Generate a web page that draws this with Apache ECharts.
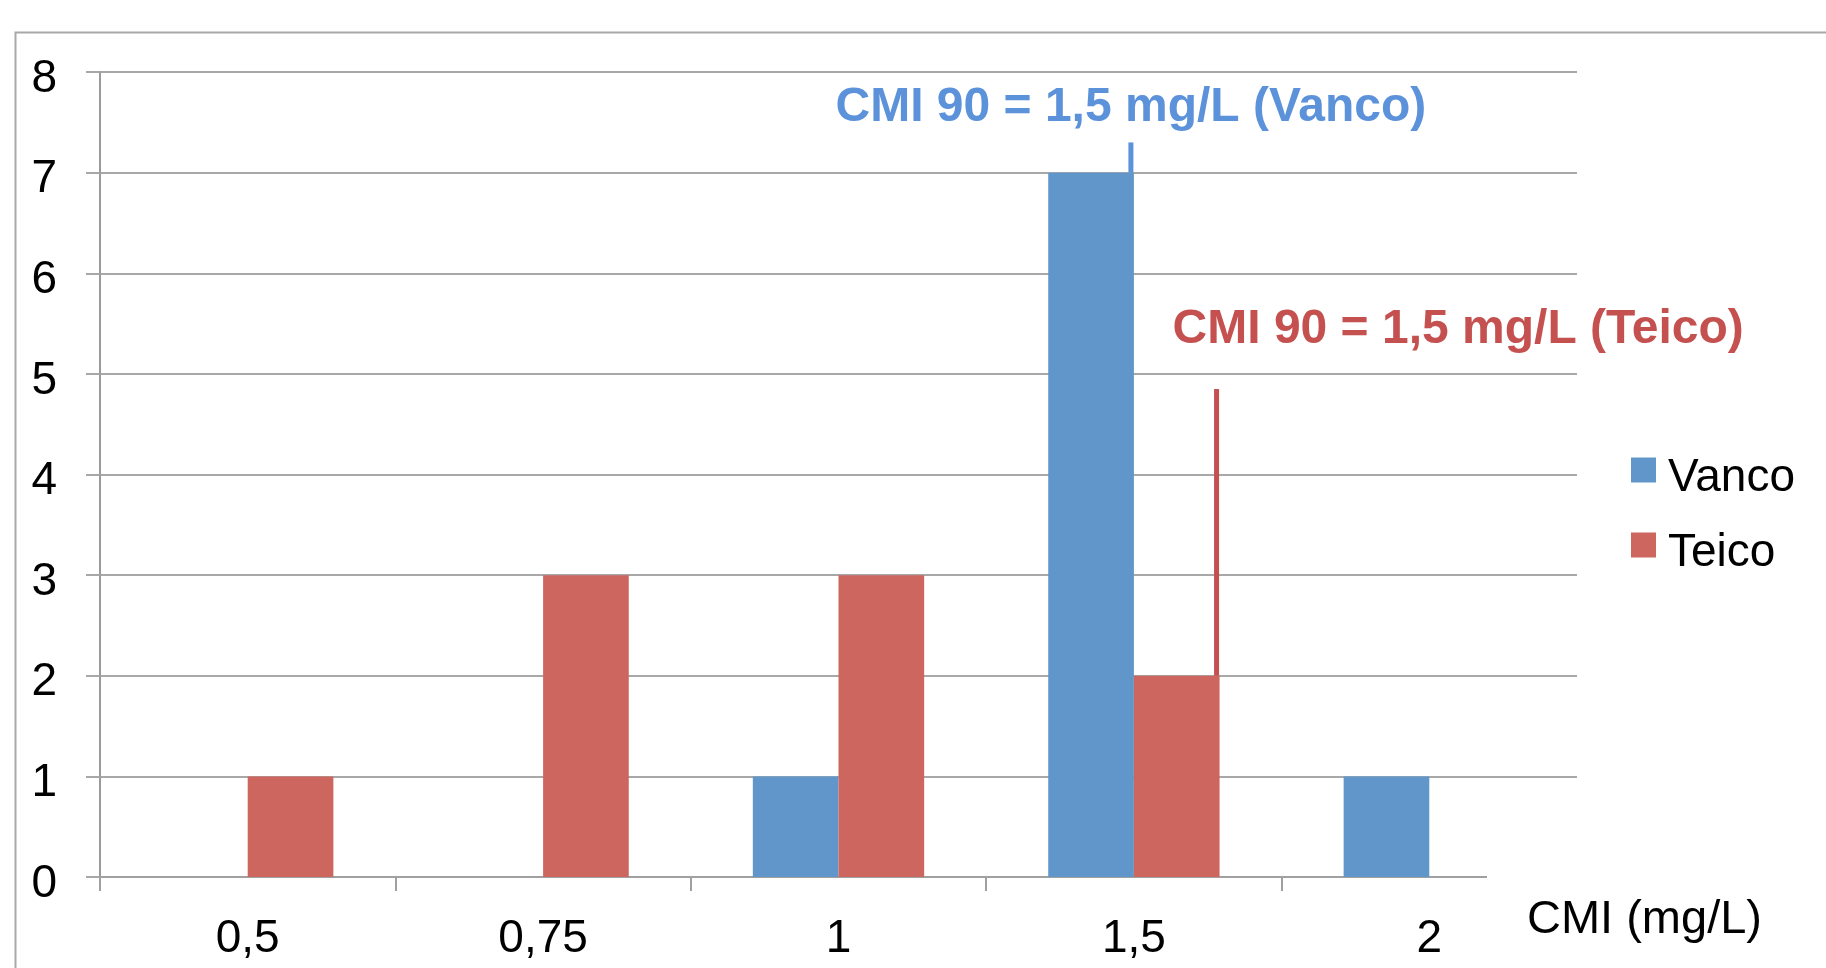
<!DOCTYPE html>
<html>
<head>
<meta charset="utf-8">
<script src="https://cdn.jsdelivr.net/npm/echarts@6/dist/echarts.min.js"></script>
<style>
html,body{margin:0;padding:0;background:#fff;}
#chart{width:1826px;height:968px;}
</style>
</head>
<body>
<div id="chart"></div>
<script>
// ---- data ----
const categories = ['0,5', '0,75', '1', '1,5', '2'];
const vancoValues = [0, 0, 1, 7, 1];
const teicoValues = [1, 3, 3, 2, 0];
const yTicks = [0, 1, 2, 3, 4, 5, 6, 7, 8];
const seriesNames = ['Vanco', 'Teico'];
// annotations: category, series index, line from value, line to value, text
const annotCategory = ['1,5', '1,5'];
const annotSeries = [0, 1];
const annotFrom = [7, 2];
const annotTo = [7.3, 4.85];
const annotText = ['CMI 90 = 1,5 mg/L (Vanco)', 'CMI 90 = 1,5 mg/L (Teico)'];

// ---- styles ----
const BLUE = '#6096c9';
const RED = '#cd665f';
const annotColors = ['#5b92da', '#c4514f'];
const BAR_FRACTION = 0.58; // share of category band used by the two bars
const annotLayout = [
  {align: 'center', dx: 0, dy: -35},
  {align: 'left', dx: -44, dy: -59}
];
const FONT = 'Liberation Sans, Arial, sans-serif';

const chart = echarts.init(document.getElementById('chart'));
const annotData = annotCategory.map((c, i) => [categories.indexOf(c), annotFrom[i], annotTo[i], annotSeries[i], i]);

chart.setOption({
  animation: false,
  backgroundColor: '#fff',
  grid: {left: 100, right: 249, top: 72, bottom: 91, containLabel: false},
  legend: {
    data: seriesNames,
    orient: 'vertical',
    left: 1631,
    top: 439,
    padding: 0,
    icon: 'rect',
    itemWidth: 25,
    itemHeight: 25,
    itemGap: 13,
    formatter: '{t|{name}}',
    textStyle: {
      fontSize: 46, fontFamily: FONT, color: '#000',
      rich: {t: {fontSize: 46, fontFamily: FONT, color: '#000', lineHeight: 46, padding: [16, 0, 0, 7]}}
    }
  },
  xAxis: {
    type: 'category',
    data: categories,
    name: 'CMI (mg/L)',
    nameLocation: 'end',
    nameGap: -50,
    nameTextStyle: {fontSize: 47, fontFamily: FONT, color: '#000', align: 'left', verticalAlign: 'top', lineHeight: 47, padding: [20, 0, 0, 0]},
    axisLine: {show: true, lineStyle: {color: '#a0a0a0', width: 2}},
    axisTick: {show: true, length: 14, lineStyle: {color: '#a0a0a0', width: 2}},
    axisLabel: {fontSize: 46, fontFamily: FONT, color: '#000', margin: 39, lineHeight: 46},
    splitLine: {show: false}
  },
  yAxis: {
    type: 'value',
    min: yTicks[0],
    max: yTicks[yTicks.length - 1],
    interval: 1,
    axisLine: {show: true, lineStyle: {color: '#9a9a9a', width: 2}},
    axisTick: {show: true, length: 14, lineStyle: {color: '#a8a8a8', width: 2}},
    axisLabel: {
      fontSize: 46, fontFamily: FONT, color: '#000', margin: 43,
      formatter: '{t|{value}}',
      rich: {t: {fontSize: 46, fontFamily: FONT, color: '#000', lineHeight: 46, padding: [14, 0, 0, 0]}}
    },
    splitLine: {show: true, lineStyle: {color: '#a8a8a8', width: 2}}
  },
  series: [
    {name: seriesNames[0], type: 'bar', data: vancoValues, itemStyle: {color: BLUE}, barGap: '0%', barCategoryGap: (100 - BAR_FRACTION * 100) + '%'},
    {name: seriesNames[1], type: 'bar', data: teicoValues, itemStyle: {color: RED}, barGap: '0%', barCategoryGap: (100 - BAR_FRACTION * 100) + '%'},
    {
      type: 'custom',
      data: annotData,
      z: 10,
      renderItem: function (params, api) {
        const cat = api.value(0), from = api.value(1), to = api.value(2), s = api.value(3), k = api.value(4);
        const p0 = api.coord([cat, from]);
        const p1 = api.coord([cat, to]);
        const band = api.size([1, 0])[0];
        const barW = band * BAR_FRACTION / 2;
        const right = p0[0] + (s === 0 ? 0 : barW);
        const x = right - 3;
        const lay = annotLayout[k];
        return {
          type: 'group',
          children: [
            {type: 'rect', shape: {x: x - 2.5, y: p1[1], width: 5, height: p0[1] - p1[1]}, style: {fill: annotColors[k]}},
            {type: 'text', style: {text: annotText[k], x: x + lay.dx, y: p1[1] + lay.dy, align: lay.align, verticalAlign: 'middle', font: 'bold 48px ' + FONT, fill: annotColors[k]}}
          ]
        };
      }
    }
  ],
  graphic: [
    {type: 'rect', left: 13, top: 30, z: -10, silent: true, shape: {width: 1900, height: 1000}, style: {fill: 'none', stroke: '#a8a8a8', lineWidth: 2}},
    {type: 'rect', left: 1487, top: 866, z: 100, silent: true, shape: {width: 100, height: 30}, style: {fill: '#fff'}}
  ]
});
</script>
</body>
</html>
